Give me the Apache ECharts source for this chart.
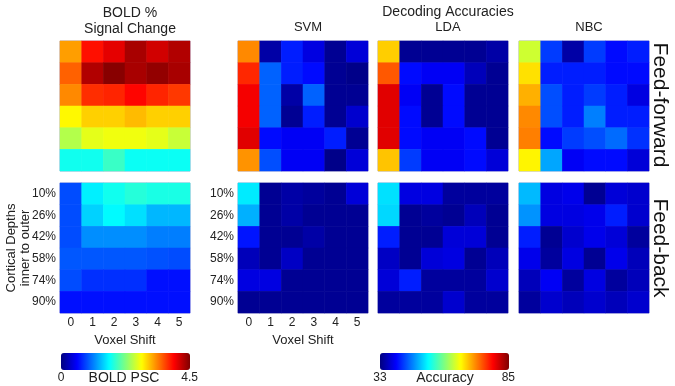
<!DOCTYPE html>
<html>
<head>
<meta charset="utf-8">
<script src="https://cdn.jsdelivr.net/npm/echarts@6/dist/echarts.min.js"></script>
<style>
  html, body { margin: 0; padding: 0; background: #fff; }
  #chart { width: 675px; height: 386px; }
</style>
</head>
<body>
<div id="chart"></div>
<script>
const shifts = ['0', '1', '2', '3', '4', '5']
const depths = ['10%', '26%', '42%', '58%', '74%', '90%']

// BOLD percent signal change, rows = depth (10% .. 90%), cols = voxel shift
const boldFF = [
  [3.24, 3.87, 4.05, 4.32, 4.14, 4.28],
  [3.51, 4.28, 4.46, 4.32, 4.41, 4.32],
  [3.33, 3.74, 3.78, 3.92, 3.78, 3.69],
  [2.84, 3.02, 3.02, 3.11, 3.02, 3.02],
  [2.48, 2.70, 2.75, 2.75, 2.70, 2.57],
  [1.76, 1.76, 1.94, 1.73, 1.73, 1.73]
]
const boldFB = [
  [0.90, 1.62, 1.76, 1.85, 1.80, 1.80],
  [0.90, 1.49, 1.67, 1.55, 1.37, 1.37],
  [0.90, 1.19, 1.19, 1.19, 1.12, 1.12],
  [0.95, 0.95, 0.95, 0.95, 0.92, 0.90],
  [0.90, 0.77, 0.77, 0.77, 0.63, 0.63],
  [0.63, 0.63, 0.63, 0.63, 0.63, 0.63]
]

// decoding accuracies (%)
const svmFF = [
  [71.5, 35, 41, 38, 34, 37.5],
  [76.5, 44.5, 41, 40, 34, 33.5],
  [79, 44.5, 35, 44.5, 34, 34],
  [79, 44.5, 34, 41, 34, 37],
  [80, 40, 39, 39, 41, 34],
  [71, 43.5, 39, 39, 33.5, 37.5]
]
const ldaFF = [
  [68, 34, 34, 34, 34, 35],
  [74, 40, 39, 39, 36, 34],
  [80, 39, 34, 40, 34, 34],
  [80, 40, 34, 40, 34, 34],
  [80, 40, 39, 39, 40, 34],
  [68.5, 42.5, 39, 39, 40, 37.5]
]
const nbcFF = [
  [63, 42.5, 35, 42.5, 40, 41],
  [67, 41, 41, 41, 40, 40],
  [69.5, 43.5, 41, 42.5, 41, 38],
  [71.5, 43.5, 41, 46, 41, 41],
  [72, 40, 42.5, 43.5, 45, 42],
  [66, 48, 39, 40, 40, 37.5]
]
const svmFB = [
  [51.5, 34, 35, 34.5, 34, 37.5],
  [48.5, 34, 35, 34, 34, 34],
  [40.5, 34, 34, 35, 34, 34],
  [36, 34, 36.5, 34, 34, 34],
  [38, 38, 34, 34, 34, 34],
  [34, 34, 34, 34, 34, 34]
]
const ldaFB = [
  [51, 38, 38, 34.5, 34.5, 34.5],
  [50.5, 34, 34.5, 34, 36, 34],
  [41, 34, 34, 37.5, 37.5, 34],
  [36.5, 34, 37.5, 38, 34, 36],
  [37.5, 41, 34.5, 34.5, 34.5, 37],
  [34.5, 34.5, 34.5, 37, 34.5, 34.5]
]
const nbcFB = [
  [49, 38, 38.5, 34, 37.5, 37],
  [47, 38, 38, 38.5, 41, 37],
  [41, 34, 37, 38.5, 37.5, 34.5],
  [38.5, 34.5, 38, 34, 38.5, 36],
  [36, 39, 34.5, 38, 34.5, 36],
  [34.5, 37, 36, 37, 36, 37]
]

const boldRange = [0, 4.5]
const accRange = [33, 85]

const jet = ['#00007f', '#0000ff', '#007fff', '#00ffff', '#7fff7f', '#ffff00', '#ff7f00', '#ff0000', '#7f0000']
const font = 'Liberation Sans, Arial, sans-serif'
const txt = '#222'

const panels = [
  { data: boldFF, left: 60, top: 41 },
  { data: boldFB, left: 60, top: 183, labels: true },
  { data: svmFF, left: 238, top: 41 },
  { data: ldaFF, left: 378, top: 41 },
  { data: nbcFF, left: 519, top: 41 },
  { data: svmFB, left: 238, top: 183, labels: true },
  { data: ldaFB, left: 378, top: 183 },
  { data: nbcFB, left: 519, top: 183 }
]

const toCells = m => {
  const out = []
  m.forEach((row, r) => row.forEach((v, c) => out.push([c, r, v])))
  return out
}

const option = {
  animation: false,
  textStyle: { fontFamily: font },
  title: [
    { text: 'BOLD %\nSignal Change', left: 125, top: 0, textAlign: 'center',
      textStyle: { fontSize: 14, fontWeight: 'normal', color: txt, lineHeight: 16 } },
    { text: 'Decoding Accuracies', left: 443, top: 0, textAlign: 'center',
      textStyle: { fontSize: 14, fontWeight: 'normal', color: txt } },
    ...[['SVM', 303], ['LDA', 443], ['NBC', 584]].map(([t, x]) => ({
      text: t, left: x, top: 16, textAlign: 'center',
      textStyle: { fontSize: 13, fontWeight: 'normal', color: txt }
    }))
  ],
  grid: panels.map(p => ({
    left: p.left, top: p.top, width: 130, height: 130,
    show: true, borderColor: '#a8a8d0', borderWidth: 1, backgroundColor: 'transparent'
  })),
  xAxis: panels.map((p, i) => ({
    type: 'category', gridIndex: i, data: shifts,
    axisLine: { show: false }, axisTick: { show: false }, splitLine: { show: false },
    axisLabel: { show: !!p.labels, fontSize: 12, color: txt, margin: 4 },
    name: p.labels ? 'Voxel Shift' : '', nameLocation: 'middle', nameGap: 21,
    nameTextStyle: { fontSize: 13, color: txt }
  })),
  yAxis: panels.map((p, i) => ({
    type: 'category', gridIndex: i, data: depths, inverse: true,
    axisLine: { show: false }, axisTick: { show: false }, splitLine: { show: false },
    axisLabel: { show: !!p.labels, fontSize: 12, color: txt, margin: 4 }
  })),
  visualMap: [
    { type: 'continuous', min: boldRange[0], max: boldRange[1], seriesIndex: [0, 1],
      orient: 'horizontal', left: 61, top: 353, itemWidth: 17, itemHeight: 129,
      padding: 0, calculable: false, hoverLink: false, text: null, showLabel: false,
      inRange: { color: jet } },
    { type: 'continuous', min: accRange[0], max: accRange[1], seriesIndex: [2, 3, 4, 5, 6, 7],
      orient: 'horizontal', left: 380, top: 353, itemWidth: 17, itemHeight: 129,
      padding: 0, calculable: false, hoverLink: false, text: null, showLabel: false,
      inRange: { color: jet } }
  ],
  series: panels.map((p, i) => ({
    type: 'heatmap', xAxisIndex: i, yAxisIndex: i, data: toCells(p.data),
    emphasis: { disabled: true }, itemStyle: { borderWidth: 0 }
  })),
  graphic: [
    { type: 'text', x: 660, y: 105, rotation: -Math.PI / 2,
      style: { text: 'Feed-forward', font: '21px ' + font, fill: '#111', align: 'center', verticalAlign: 'middle' } },
    { type: 'text', x: 660, y: 248, rotation: -Math.PI / 2,
      style: { text: 'Feed-back', font: '21px ' + font, fill: '#111', align: 'center', verticalAlign: 'middle' } },
    { type: 'text', x: 11, y: 248, rotation: Math.PI / 2,
      style: { text: 'Cortical Depths', font: '13px ' + font, fill: txt, align: 'center', verticalAlign: 'middle' } },
    { type: 'text', x: 25, y: 248, rotation: Math.PI / 2,
      style: { text: 'inner to outer', font: '13px ' + font, fill: txt, align: 'center', verticalAlign: 'middle' } },
    ...[['0', 61, 'center'], ['BOLD PSC', 124, 'center'], ['4.5', 198, 'right'],
        ['33', 380, 'center'], ['Accuracy', 445, 'center'], ['85', 515, 'right']].map(([t, x, a]) => ({
      type: 'text', x: x, y: 378,
      style: { text: t, font: (t.length > 3 ? '14px ' : '12px ') + font, fill: txt, align: a, verticalAlign: 'middle' }
    }))
  ]
}

const chart = echarts.init(document.getElementById('chart'))
chart.setOption(option)
</script>
</body>
</html>
